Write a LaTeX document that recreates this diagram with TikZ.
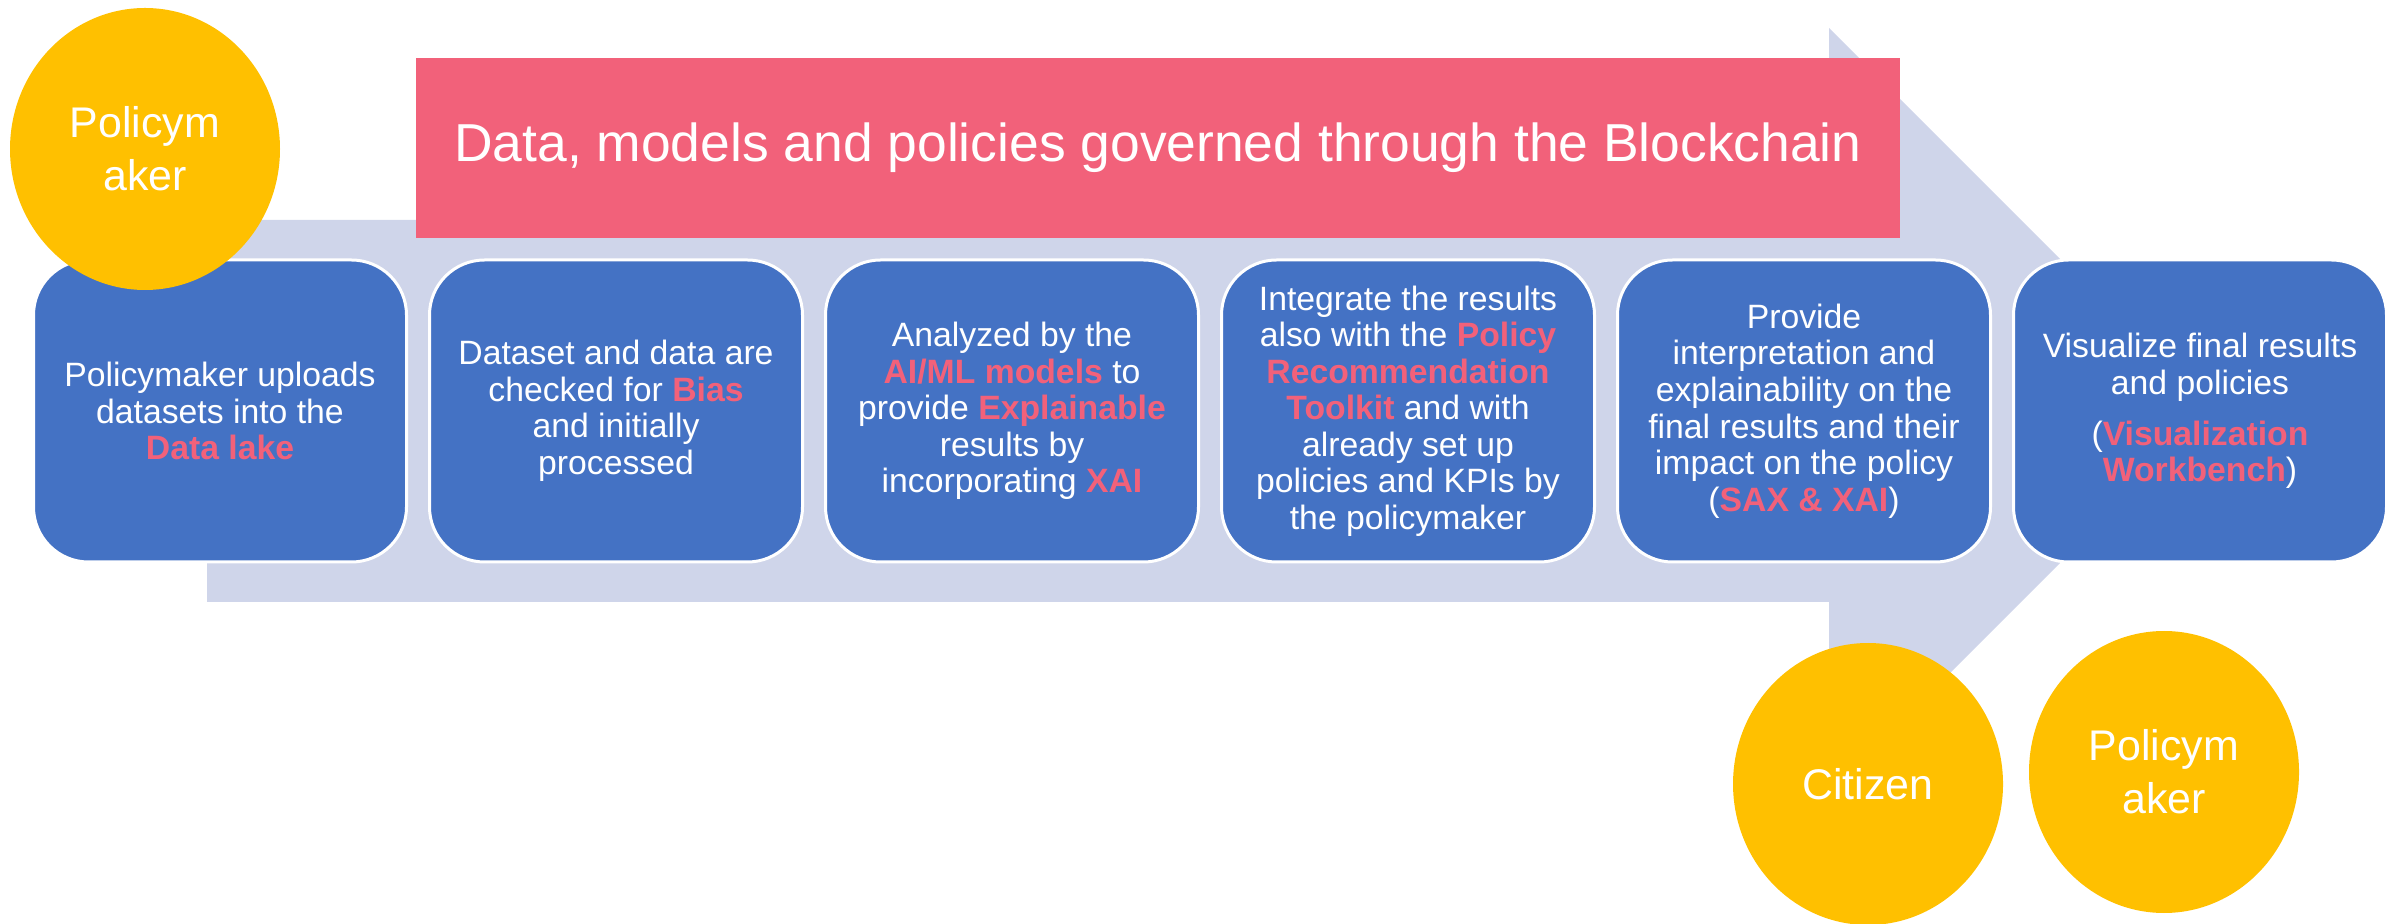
\documentclass[tikz,border=0pt]{standalone}
\usepackage{fontspec}
\setmainfont{Liberation Sans}
\definecolor{flowlav}{RGB}{207,213,234}
\definecolor{chainred}{RGB}{242,97,122}
\definecolor{stepblue}{RGB}{68,114,196}
\definecolor{actorgold}{RGB}{255,192,0}
\usetikzlibrary{shapes,positioning}

\newcommand{\keyterm}[1]{\textcolor{chainred}{\textbf{#1}}}

\begin{document}
\begin{tikzpicture}[x=0.1mm, y=-0.1mm,
    stepbox/.style={rectangle, rounded corners=5.5mm, fill=stepblue, draw=white,
        line width=0.3mm, minimum width=37.3mm, minimum height=30.2mm,
        inner sep=1mm, text=white, align=center,
        font=\fontsize{9.6}{10.4}\selectfont},
    actor/.style={ellipse, fill=actorgold, minimum width=27mm,
        minimum height=28.2mm, inner sep=0pt, text=white, align=center,
        font=\fontsize{12.2}{15}\selectfont},
    banner/.style={rectangle, fill=chainred, minimum width=148.4mm,
        minimum height=18mm, text=white, font=\fontsize{15.2}{18}\selectfont}]

    % Canvas
    \useasboundingbox (0,0) rectangle (2389,924);

    % Process arrow
    \fill[flowlav] (207,220) -- (1829,220) -- (1829,28) -- (2212,411)
        -- (1829,794) -- (1829,602) -- (207,602) -- cycle;

    % Blockchain banner
    \node[banner] (chain) at (1158,148) {Data, models and policies governed through the Blockchain};

    % Steps
    \node[stepbox] (upload) at (220,411)
        {Policymaker uploads\\datasets into the\\\keyterm{Data lake}};
    \node[stepbox, right=2mm of upload] (bias)
        {Dataset and data are\\checked for \keyterm{Bias}\\and initially\\processed};
    \node[stepbox, right=2mm of bias] (analyze)
        {Analyzed by the\\\keyterm{AI/ML models} to\\provide \keyterm{Explainable}\\results by\\incorporating \keyterm{XAI}};
    \node[stepbox, right=2mm of analyze] (integrate)
        {Integrate the results\\also with the \keyterm{Policy}\\\keyterm{Recommendation}\\\keyterm{Toolkit} and with\\already set up\\policies and KPIs by\\the policymaker};
    \node[stepbox, right=2mm of integrate] (explain)
        {Provide\\interpretation and\\explainability on the\\final results and their\\impact on the policy\\(\keyterm{SAX \& XAI})};
    \node[stepbox, right=2mm of explain] (visual)
        {Visualize final results\\and policies\\[4pt](\keyterm{Visualization}\\\keyterm{Workbench})};

    % Actors
    \node[actor] (makerin) at (145,149) {Policym\\aker};
    \node[actor] (citizen) at (1868,784) {Citizen};
    \node[actor] (makerout) at (2164,772) {Policym\\aker};
\end{tikzpicture}
\end{document}
